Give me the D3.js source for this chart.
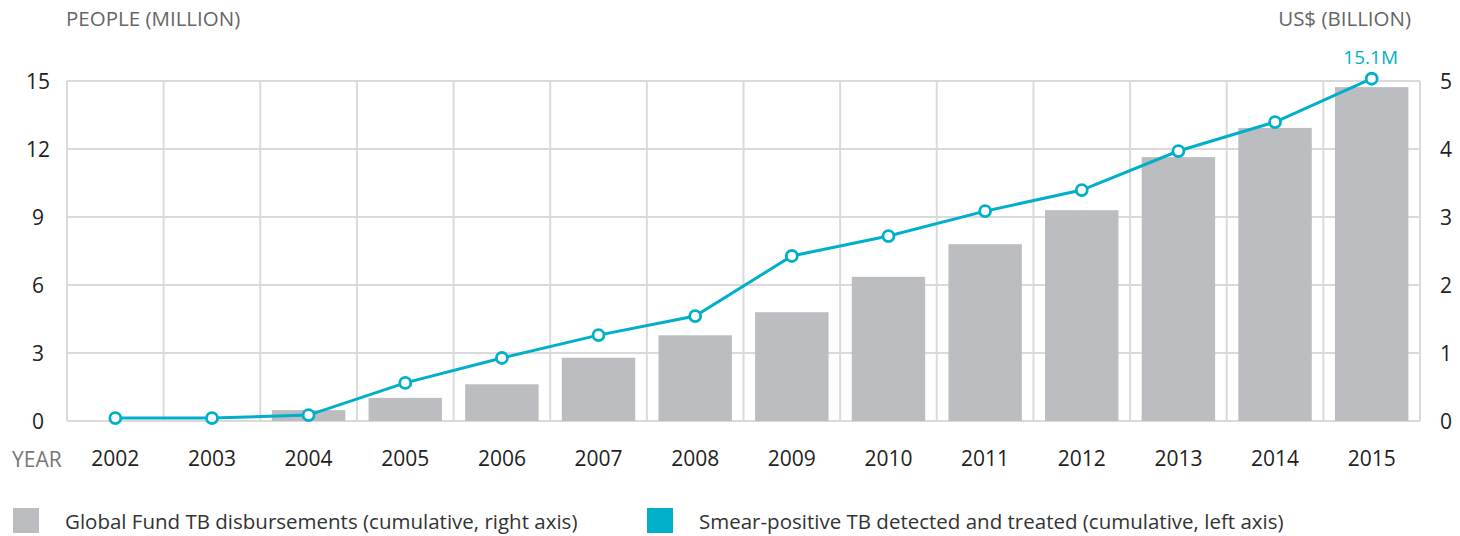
<!DOCTYPE html>
<html>
<head>
<meta charset="utf-8">
<script src="https://cdn.jsdelivr.net/npm/d3@7"></script>
<style>
  body { margin: 0; background: #fff; }
  svg { display: block; font-family: "Open Sans", Lato, sans-serif; }
</style>
</head>
<body>
<svg></svg>
<script>
var width = 1460,
    height = 536

// data
var years = ["2002", "2003", "2004", "2005", "2006", "2007", "2008",
             "2009", "2010", "2011", "2012", "2013", "2014", "2015"];
// Global Fund TB disbursements, cumulative, US$ billion (right axis)
var disbursements = [0, 0, 0.16, 0.34, 0.54, 0.93, 1.26, 1.60, 2.12, 2.60, 3.10, 3.88, 4.31, 4.91];
// smear-positive TB detected and treated, cumulative, million (left axis)
var treated = [0.13, 0.13, 0.26, 1.68, 2.78, 3.79, 4.63, 7.28, 8.16, 9.26, 10.19, 11.91, 13.19, 15.1];
var leftTicks = [0, 3, 6, 9, 12, 15];
var rightTicks = [0, 1, 2, 3, 4, 5];

var grey = "#bcbdc0",
    cyan = "#00afc9",
    gridColor = "#dadada",
    fontFamily = "'Open Sans', Lato, sans-serif";

var margin = {top: 81, right: 40, bottom: 115, left: 67};
var plotW = width - margin.left - margin.right,
    plotH = height - margin.top - margin.bottom;

var svg = d3.select("svg")
    .attr("width", width)
    .attr("height", height);

var x = d3.scaleBand()
    .domain(years)
    .range([margin.left, margin.left + plotW])
    .padding(0);

var yLeft = d3.scaleLinear()
    .domain([0, 15])
    .range([margin.top + plotH, margin.top]);

var yRight = d3.scaleLinear()
    .domain([0, 5])
    .range([margin.top + plotH, margin.top]);

// grid
var grid = svg.append("g").attr("class", "grid");

grid.selectAll("line.h")
    .data(leftTicks)
    .enter()
    .append("line")
    .attr("class", "h")
    .attr("x1", margin.left)
    .attr("x2", margin.left + plotW)
    .attr("y1", yLeft)
    .attr("y2", yLeft)
    .attr("stroke", gridColor)
    .attr("stroke-width", 2);

var vlines = years.map(function (d) { return x(d); }).concat([margin.left + plotW]);
grid.selectAll("line.v")
    .data(vlines)
    .enter()
    .append("line")
    .attr("class", "v")
    .attr("x1", function (d) { return d; })
    .attr("x2", function (d) { return d; })
    .attr("y1", margin.top)
    .attr("y2", margin.top + plotH)
    .attr("stroke", gridColor)
    .attr("stroke-width", 2);

// bars
var barW = x.bandwidth() * 0.76;
svg.append("g")
    .selectAll("rect")
    .data(disbursements)
    .enter()
    .append("rect")
    .attr("x", function (d, i) { return x(years[i]) + (x.bandwidth() - barW) / 2; })
    .attr("width", barW)
    .attr("y", function (d) { return yRight(d); })
    .attr("height", function (d) { return yRight(0) - yRight(d); })
    .attr("fill", grey);

// line
var cx = function (d, i) { return x(years[i]) + x.bandwidth() / 2; };
var line = d3.line()
    .x(cx)
    .y(function (d) { return yLeft(d); });

svg.append("path")
    .datum(treated)
    .attr("d", line)
    .attr("fill", "none")
    .attr("stroke", cyan)
    .attr("stroke-width", 3);

svg.append("g")
    .selectAll("circle")
    .data(treated)
    .enter()
    .append("circle")
    .attr("cx", cx)
    .attr("cy", function (d) { return yLeft(d); })
    .attr("r", 5.5)
    .attr("fill", "#fff")
    .attr("stroke", cyan)
    .attr("stroke-width", 2.8);

// last value label
var last = treated.length - 1;
svg.append("text")
    .attr("x", cx(treated[last], last) - 1)
    .attr("y", 64)
    .attr("text-anchor", "middle")
    .attr("fill", cyan)
    .style("font-size", "19px")
    .text(treated[last] + "M");

// axes
var leftAxis = svg.append("g")
    .attr("transform", "translate(38,0)")
    .call(d3.axisLeft(yLeft).tickValues(leftTicks).tickSize(0).tickPadding(0));
var rightAxis = svg.append("g")
    .attr("transform", "translate(1446,0)")
    .call(d3.axisRight(yRight).tickValues(rightTicks).tickFormat(d3.format("d"))
        .tickSize(0).tickPadding(0));
var bottomAxis = svg.append("g")
    .attr("transform", "translate(0," + (margin.top + plotH) + ")")
    .call(d3.axisBottom(x).tickSize(0).tickPadding(30));

[leftAxis, rightAxis, bottomAxis].forEach(function (a) {
    a.select(".domain").remove();
    a.selectAll("text")
        .attr("fill", "#222")
        .style("font-size", "21px")
        .style("font-family", fontFamily);
});
leftAxis.selectAll("text").attr("text-anchor", "middle").attr("dy", "0.36em");
rightAxis.selectAll("text").attr("text-anchor", "middle").attr("dy", "0.36em");

// axis titles
svg.append("text")
    .attr("x", 66)
    .attr("y", 26)
    .attr("fill", "#666")
    .style("font-size", "20.5px")
    .text("PEOPLE (MILLION)");

svg.append("text")
    .attr("x", 1411)
    .attr("y", 26)
    .attr("text-anchor", "end")
    .attr("fill", "#666")
    .style("font-size", "20.5px")
    .text("US$ (BILLION)");

svg.append("text")
    .attr("x", 12)
    .attr("y", 467)
    .attr("fill", "#777")
    .style("font-size", "21px")
    .text("YEAR");

// legend
var legend = [
    {label: "Global Fund TB disbursements (cumulative, right axis)", color: grey, x: 13},
    {label: "Smear-positive TB detected and treated (cumulative, left axis)", color: cyan, x: 647}
];

var item = svg.append("g")
    .selectAll("g")
    .data(legend)
    .enter()
    .append("g")
    .attr("transform", function (d) { return "translate(" + d.x + ",508)"; });

item.append("rect")
    .attr("width", 26)
    .attr("height", 25)
    .attr("fill", function (d) { return d.color; });

item.append("text")
    .attr("x", 52)
    .attr("y", 21)
    .attr("fill", "#333")
    .style("font-size", "20.5px")
    .text(function (d) { return d.label; });
</script>
</body>
</html>
